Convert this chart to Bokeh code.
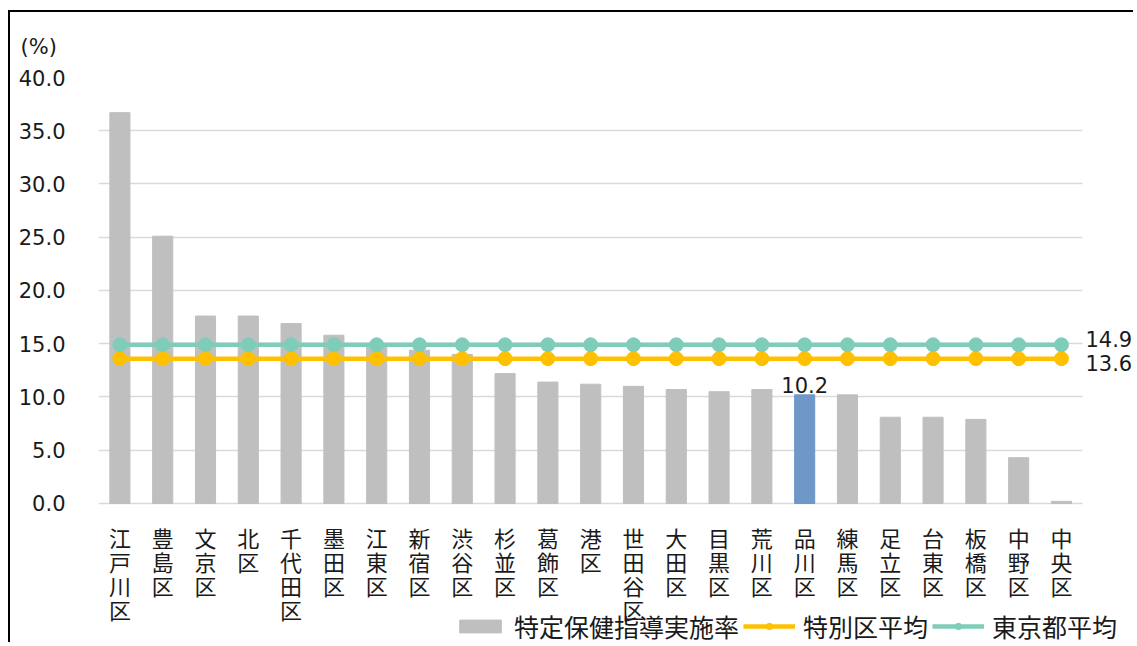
from bokeh.plotting import figure
from bokeh.models import (ColumnDataSource, Range1d, FixedTicker, Title,
                          Legend, LegendItem, Label, NumeralTickFormatter)
from bokeh.embed import file_html
from bokeh.resources import INLINE

# ---- data ----
wards = ["江戸川区", "豊島区", "文京区", "北区", "千代田区", "墨田区", "江東区",
         "新宿区", "渋谷区", "杉並区", "葛飾区", "港区", "世田谷区", "大田区",
         "目黒区", "荒川区", "品川区", "練馬区", "足立区", "台東区", "板橋区",
         "中野区", "中央区"]
rates = [36.7, 25.1, 17.6, 17.6, 16.9, 15.8, 15.0, 14.4, 14.0, 12.2, 11.4, 11.2,
         11.0, 10.7, 10.5, 10.7, 10.2, 10.2, 8.1, 8.1, 7.9, 4.3, 0.2]
ward_avg = [13.6] * len(wards)     # 特別区平均
tokyo_avg = [14.9] * len(wards)    # 東京都平均
highlight = "品川区"
y_ticks = [0, 5, 10, 15, 20, 25, 30, 35, 40]

JP = "Noto Sans CJK JP"
NUM = "DejaVu Sans"
GRAY = "#BFBFBF"
BLUE = "#6F97C8"
YELLOW = "#FFC000"
GREEN = "#7FCDB9"
TXT = "#1a1a1a"

idx = list(range(len(wards)))
colors = [BLUE if w == highlight else GRAY for w in wards]

src = ColumnDataSource(dict(x=idx, rate=rates, color=colors,
                            wavg=ward_avg, tavg=tokyo_avg))

# the frame reaches down to the legend and right to the value labels;
# the category axis sits at y = 0 and the grid stops after the last category
p = figure(x_range=Range1d(-0.5, 23.73),
           y_range=Range1d(-13.24, 40),
           width=1125, height=632, output_backend="svg", toolbar_location=None,
           min_border_left=88, min_border_right=0, min_border_top=65,
           min_border_bottom=0,
           styles={"margin-left": "8px", "margin-top": "10px",
                   "border-top": "2px solid #000", "border-left": "2px solid #000"})
p.outline_line_color = None
p.background_fill_color = "white"
p.border_fill_color = "white"

bars = p.vbar(x="x", top="rate", width=0.47, color="color", source=src)

yl = p.line(x="x", y="wavg", line_color=YELLOW, line_width=4.5, source=src)
yd = p.scatter(x="x", y="wavg", size=14, fill_color=YELLOW, line_color=YELLOW, source=src)
gl = p.line(x="x", y="tavg", line_color=GREEN, line_width=4.5, source=src)
gd = p.scatter(x="x", y="tavg", size=14, fill_color=GREEN, line_color=GREEN, source=src)

# left axis
p.yaxis.ticker = FixedTicker(ticks=y_ticks)
p.yaxis.formatter = NumeralTickFormatter(format="0.0")
p.yaxis.axis_line_color = None
p.yaxis.major_tick_line_color = None
p.yaxis.minor_tick_line_color = None
p.yaxis.major_label_text_font = NUM
p.yaxis.major_label_text_font_size = "21px"
p.yaxis.major_label_text_color = TXT
p.yaxis.major_label_standoff = 27

# bottom axis with vertical ward names, drawn at y = 0
p.xaxis.fixed_location = 0
p.xaxis.ticker = FixedTicker(ticks=idx)
p.xaxis.major_label_overrides = {i: "\n".join(w) for i, w in zip(idx, wards)}
p.xaxis.axis_line_color = None
p.xaxis.major_tick_line_color = None
p.xaxis.minor_tick_line_color = None
p.xaxis.major_label_text_font = JP
p.xaxis.major_label_text_font_size = "22px"
p.xaxis.major_label_text_color = TXT
p.xaxis.major_label_standoff = 12
p.xaxis.major_label_text_line_height = 0.75

p.xgrid.grid_line_color = None
p.ygrid.grid_line_color = "#D9D9D9"
p.ygrid.grid_line_width = 1.5
p.ygrid.cross_bounds = (-0.5, len(wards) - 0.5)

# unit title
p.add_layout(Title(text="(%)", align="left", offset=-78, standoff=37,
                   text_font=NUM, text_font_size="21px", text_font_style="normal",
                   text_color=TXT), "above")


def add_label(x, y, text, xo, yo, align, baseline):
    p.add_layout(Label(x=x, y=y, text=text, x_offset=xo, y_offset=yo,
                       text_font=NUM, text_font_size="21px", text_color=TXT,
                       text_align=align, text_baseline=baseline))


add_label(idx[-1], tokyo_avg[-1], f"{tokyo_avg[-1]:.1f}", 24, 6, "left", "middle")
add_label(idx[-1], ward_avg[-1], f"{ward_avg[-1]:.1f}", 24, -4, "left", "middle")
hi = wards.index(highlight)
add_label(idx[hi], rates[hi], f"{rates[hi]:.1f}", 0, 2, "center", "bottom")

legend = Legend(items=[
    LegendItem(label="特定保健指導実施率", renderers=[bars]),
    LegendItem(label="特別区平均", renderers=[yl, yd]),
    LegendItem(label="東京都平均", renderers=[gl, gd]),
], orientation="horizontal", location=(356, 0))
legend.background_fill_alpha = 0
legend.border_line_color = None
legend.label_text_font = JP
legend.label_text_font_size = "25px"
legend.label_text_color = TXT
legend.label_text_line_height = 0.8
legend.label_height = 20
legend.glyph_width = 52
legend.glyph_height = 16
legend.label_standoff = 8
legend.spacing = 4
legend.padding = 0
legend.margin = 0
p.add_layout(legend, "center")

open("out.html", "w").write(file_html(p, INLINE))
